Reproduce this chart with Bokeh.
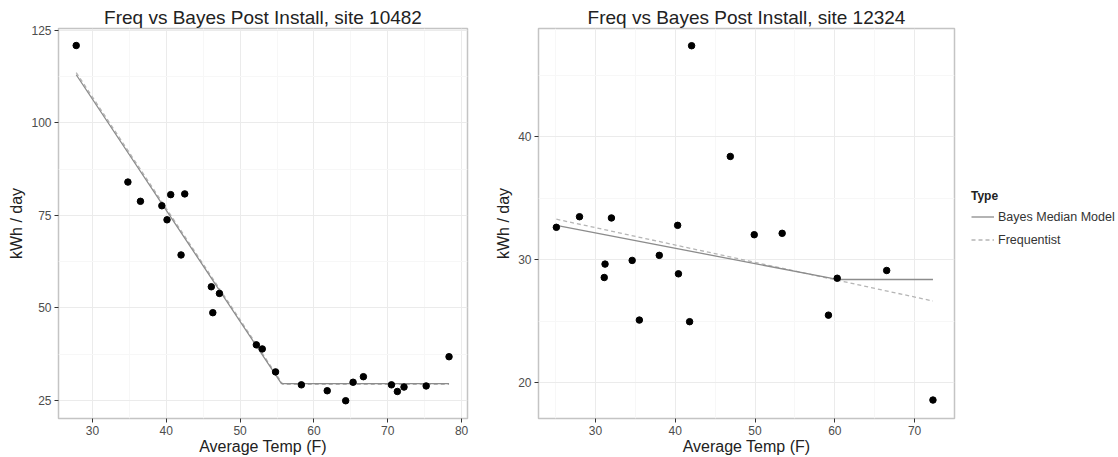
from bokeh.plotting import figure
from bokeh.layouts import row
from bokeh.models import FixedTicker, Legend, LegendItem, Range1d
from bokeh.embed import file_html
from bokeh.resources import INLINE

# ---------------- data ----------------
site1_title = "Freq vs Bayes Post Install, site 10482"
site1_temp = [27.8, 34.8, 36.5, 39.4, 40.1, 40.6, 42.5, 42.0, 46.1, 46.3, 47.2, 52.2,
              53.0, 54.8, 58.3, 61.8, 64.3, 65.3, 66.7, 70.5, 71.3, 72.2, 75.2, 78.3]
site1_kwh = [120.9, 84.0, 78.8, 77.6, 73.8, 80.6, 80.8, 64.3, 55.7, 48.7, 53.9, 40.0,
             38.9, 32.7, 29.2, 27.6, 24.9, 29.9, 31.4, 29.2, 27.4, 28.6, 28.9, 36.8]
site1_bayes_x = [27.8, 55.6, 78.3]
site1_bayes_y = [113.0, 29.5, 29.5]
site1_freq_x = [27.8, 55.8, 78.3]
site1_freq_y = [113.6, 29.3, 29.3]

site2_title = "Freq vs Bayes Post Install, site 12324"
site2_temp = [25.1, 28.0, 32.0, 42.05, 46.9, 40.3, 49.9, 53.4, 31.2, 31.1, 34.6, 38.0,
              40.4, 35.5, 41.8, 59.2, 60.3, 66.5, 72.3]
site2_kwh = [32.64, 33.5, 33.4, 47.4, 38.4, 32.8, 32.04, 32.15, 29.65, 28.56, 29.95, 30.36,
             28.86, 25.1, 24.97, 25.5, 28.5, 29.13, 18.6]
site2_bayes_x = [25.1, 60.3, 72.3]
site2_bayes_y = [32.8, 28.4, 28.4]
site2_freq_x = [25.1, 72.3]
site2_freq_y = [33.3, 26.65]

x_label = "Average Temp (F)"
y_label = "kWh / day"
legend_title = "Type"
legend_labels = ["Bayes Median Model", "Frequentist"]

site1_xticks = [30, 40, 50, 60, 70, 80]
site1_yticks = [25, 50, 75, 100, 125]
site2_xticks = [30, 40, 50, 60, 70]
site2_yticks = [20, 30, 40]

FONT = "Liberation Sans"
BAYES_COLOR = "#8c8c8c"
FREQ_COLOR = "#b5b5b5"
H = 457


def minor(ticks):
    step = ticks[1] - ticks[0]
    return [ticks[0] - step / 2] + [t + step / 2 for t in ticks]


def make_fig(title, w, xr, yr, xticks, yticks, mbl, mbr):
    p = figure(width=w, height=H, title=title, output_backend="svg",
               toolbar_location=None, x_range=Range1d(*xr), y_range=Range1d(*yr),
               min_border_left=mbl, min_border_right=mbr, min_border_top=28,
               min_border_bottom=0)
    p.title.text_font = FONT
    p.title.text_font_size = "19px"
    p.title.text_font_style = "normal"
    p.title.text_color = "#222222"
    p.title.align = "center"
    p.title.offset = 0
    p.title.standoff = 1
    p.outline_line_color = "#c4c4c4"
    p.outline_line_width = 1.5
    p.background_fill_color = "white"
    p.border_fill_color = "white"
    for ax, ticks in ((p.xaxis[0], xticks), (p.yaxis[0], yticks)):
        ax.ticker = FixedTicker(ticks=ticks, minor_ticks=minor(ticks))
        ax.axis_line_color = None
        ax.major_tick_in = 0
        ax.major_tick_out = 4
        ax.major_tick_line_color = "#333333"
        ax.minor_tick_line_color = None
        ax.major_label_text_font = FONT
        ax.major_label_text_font_size = "12px"
        ax.major_label_text_color = "#4d4d4d"
        ax.axis_label_text_font = FONT
        ax.axis_label_text_font_size = "16px"
        ax.axis_label_text_font_style = "normal"
        ax.axis_label_text_color = "#222222"
    p.xaxis.major_label_standoff = 3
    p.xaxis.axis_label_standoff = 0
    p.yaxis.major_label_standoff = 3
    p.yaxis.axis_label_standoff = 3
    p.xaxis.axis_label = x_label
    p.yaxis.axis_label = y_label
    p.grid.grid_line_color = "#ebebeb"
    p.grid.minor_grid_line_color = "#f7f7f7"
    return p


p1 = make_fig(site1_title, 488, (25.4, 80.8), (20.1, 125.5), site1_xticks, site1_yticks, 58, 21)
p1.line(site1_freq_x, site1_freq_y, line_color=FREQ_COLOR, line_width=1.3, line_dash="4 3")
p1.line(site1_bayes_x, site1_bayes_y, line_color=BAYES_COLOR, line_width=1.3)
p1.scatter(site1_temp, site1_kwh, size=6.5, color="black")

p2 = make_fig(site2_title, 474, (22.86, 75.0), (17.1, 48.8), site2_xticks, site2_yticks, 50, 8)
p2.line(site2_freq_x, site2_freq_y, line_color=FREQ_COLOR, line_width=1.3, line_dash="4 3")
p2.line(site2_bayes_x, site2_bayes_y, line_color=BAYES_COLOR, line_width=1.3)
p2.scatter(site2_temp, site2_kwh, size=6.5, color="black")

# legend panel: same model lines, drawn outside its (empty) range so only the key shows
p3 = figure(width=156, height=H, output_backend="svg", toolbar_location=None,
            x_range=Range1d(0, 1), y_range=Range1d(0, 1), x_axis_type=None,
            y_axis_type=None, min_border_left=0, min_border_right=0,
            min_border_top=0, min_border_bottom=0)
p3.outline_line_color = None
p3.grid.grid_line_color = None
r_bayes = p3.line(site2_bayes_x, site2_bayes_y, line_color=BAYES_COLOR, line_width=1.3)
r_freq = p3.line(site2_freq_x, site2_freq_y, line_color=FREQ_COLOR, line_width=1.3, line_dash="4 3")

legend = Legend(items=[LegendItem(label=legend_labels[0], renderers=[r_bayes]),
                       LegendItem(label=legend_labels[1], renderers=[r_freq])],
                location=(9, 167), title=legend_title)
legend.title_text_font = FONT
legend.title_text_font_size = "12px"
legend.title_text_font_style = "bold"
legend.title_text_color = "#222222"
legend.label_text_font = FONT
legend.label_text_font_size = "12.5px"
legend.label_text_color = "#333333"
legend.border_line_color = None
legend.background_fill_alpha = 0
legend.glyph_width = 23
legend.glyph_height = 23
legend.spacing = 0
legend.padding = 4
legend.margin = 0
legend.label_standoff = 4
legend.title_standoff = 2
p3.add_layout(legend, "center")

layout = row(p1, p2, p3)
open("out.html", "w").write(file_html(layout, INLINE))
